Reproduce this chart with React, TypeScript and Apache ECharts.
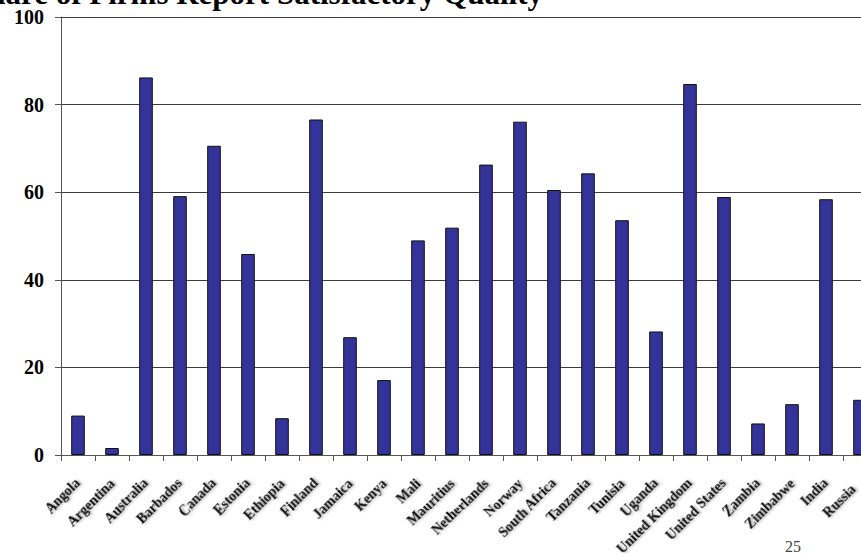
import React, { useEffect, useRef } from "react";
import * as echarts from "echarts";

// Countries along the category axis
const countries: string[] = [
  "Angola", "Argentina", "Australia", "Barbados", "Canada", "Estonia",
  "Ethiopia", "Finland", "Jamaica", "Kenya", "Mali", "Mauritius",
  "Netherlands", "Norway", "South Africa", "Tanzania", "Tunisia", "Uganda",
  "United Kingdom", "United States", "Zambia", "Zimbabwe", "India", "Russia",
];

// Share of firms (%) reporting satisfactory quality
const shareSatisfactory: number[] = [
  9.0, 1.6, 86.2, 59.1, 70.6, 45.9,
  8.4, 76.6, 26.9, 17.1, 49.0, 51.9,
  66.3, 76.1, 60.5, 64.3, 53.6, 28.2,
  84.7, 58.9, 7.2, 11.6, 58.4, 12.6,
];

const yTicks = { min: 0, max: 100, interval: 20 };

const titleText = "Share of Firms Report Satisfactory Quality";
const pageNumber = "25";

const serif = "'Liberation Serif', 'Times New Roman', serif";

const labelFont = {
  fontFamily: serif,
  fontWeight: "bold",
  fontSize: 14,
  color: "#111111",
  textShadowColor: "rgba(0,0,0,0.35)",
  textShadowBlur: 2,
  textShadowOffsetX: 1.5,
  textShadowOffsetY: 1.5,
};

export default function App() {
  const ref = useRef<HTMLDivElement>(null);

  useEffect(() => {
    if (!ref.current) return;
    const chart = echarts.init(ref.current, undefined, { renderer: "svg" });
    const lastCountry = countries[countries.length - 1];
    chart.setOption({
      animation: false,
      backgroundColor: "#ffffff",
      grid: {
        left: 61,
        top: 17,
        width: 816,
        bottom: 102,
        containLabel: false,
        outerBoundsMode: "none",
      },
      xAxis: {
        type: "category",
        data: countries,
        boundaryGap: true,
        axisLine: { show: true, lineStyle: { color: "#555555", width: 1 } },
        axisTick: { show: true, length: 6, lineStyle: { color: "#555555" } },
        axisLabel: {
          interval: 0,
          rotate: 45,
          margin: 26,
          ...labelFont,
          // the right-most label is nudged inward so it stays inside the frame
          formatter: (v: string) => (v === lastCountry ? `{edge|${v}}` : v),
          rich: {
            edge: { ...labelFont, padding: [0, 9, 0, 0] },
          },
        },
        splitLine: { show: false },
      },
      yAxis: {
        type: "value",
        min: yTicks.min,
        max: yTicks.max,
        interval: yTicks.interval,
        axisLine: { show: true, lineStyle: { color: "#555555", width: 1 } },
        axisTick: { show: true, length: 6, lineStyle: { color: "#555555" } },
        axisLabel: {
          margin: 17,
          fontFamily: serif,
          fontWeight: "bold",
          fontSize: 20,
          color: "#000000",
        },
        splitLine: { show: true, lineStyle: { color: "#3a3a3a", width: 1 } },
      },
      series: [
        {
          type: "bar",
          data: shareSatisfactory,
          barWidth: "40%",
          itemStyle: { color: "#333399", borderColor: "#111111", borderWidth: 1 },
        },
      ],
      graphic: [
        {
          type: "text",
          x: 543,
          y: -7,
          style: {
            text: titleText,
            fill: "#000000",
            font: `bold 31px ${serif}`,
            textAlign: "right",
            textVerticalAlign: "middle",
          },
        },
        {
          type: "text",
          x: 793,
          y: 546,
          style: {
            text: pageNumber,
            fill: "#444444",
            font: `16px ${serif}`,
            textAlign: "center",
            textVerticalAlign: "middle",
          },
        },
      ],
    });
    return () => chart.dispose();
  }, []);

  return (
    <div
      ref={ref}
      style={{ position: "absolute", left: 0, top: 0, width: 861, height: 557, overflow: "hidden" }}
    />
  );
}
